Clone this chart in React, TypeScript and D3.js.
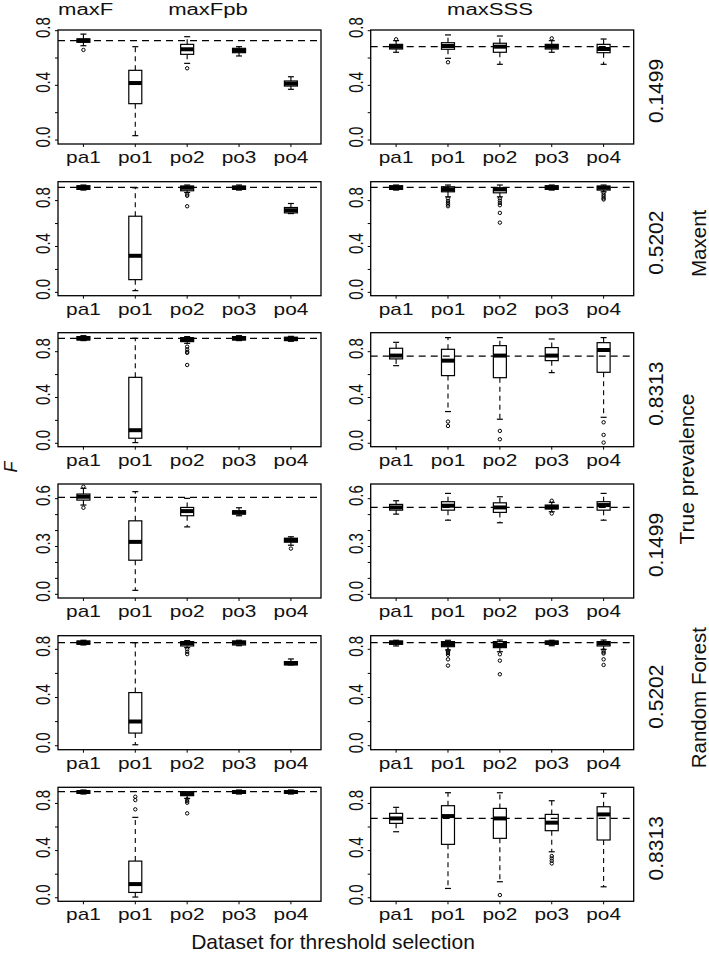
import React from "react";
import * as d3 from "d3";

const groups = ["pa1", "po1", "po2", "po3", "po4"];
const colTitles = ["maxF", "maxFpb", "maxSSS"];
const prevalenceLabels = ["0.1499", "0.5202", "0.8313", "0.1499", "0.5202", "0.8313"];
const modelLabels = ["Maxent", "Random Forest"];
const refLeft = [0.727, 0.916, 0.917, 0.608, 0.855, 0.9];
const refRight = [0.683, 0.916, 0.762, 0.545, 0.855, 0.674];
const rowYMin = [-0.029, -0.029, -0.03, -0.023, -0.033, -0.03];
const rowYMax = [0.805, 0.965, 0.966, 0.692, 0.913, 0.937];
const rowTickStep = [0.2, 0.2, 0.2, 0.1, 0.2, 0.2];
const rowLabelStep = [0.4, 0.4, 0.4, 0.3, 0.4, 0.4];

// [lower whisker, q1, median, q3, upper whisker]
const r1Left = [[0.69, 0.715, 0.728, 0.74, 0.775], [0.032, 0.266, 0.417, 0.51, 0.683], [0.561, 0.627, 0.664, 0.70, 0.756], [0.615, 0.639, 0.655, 0.671, 0.683], [0.371, 0.395, 0.413, 0.432, 0.463]];
const r1LeftOut = [[0.659], [], [0.525], [], []];
const r1Right = [[0.642, 0.666, 0.683, 0.70, 0.727], [0.598, 0.664, 0.688, 0.712, 0.769], [0.554, 0.642, 0.683, 0.708, 0.761], [0.642, 0.666, 0.683, 0.70, 0.727], [0.554, 0.639, 0.666, 0.70, 0.739]];
const r1RightOut = [[0.737], [0.569], [], [0.744], []];
const r2Left = [[0.892, 0.898, 0.912, 0.93, 0.936], [0.015, 0.111, 0.319, 0.664, 0.912], [0.871, 0.886, 0.912, 0.927, 0.936], [0.892, 0.898, 0.912, 0.927, 0.936], [0.687, 0.693, 0.716, 0.74, 0.775]];
const r2LeftOut = [[], [], [0.854, 0.842, 0.751], [], []];
const r2Right = [[0.892, 0.898, 0.912, 0.93, 0.936], [0.833, 0.877, 0.898, 0.921, 0.936], [0.833, 0.868, 0.898, 0.912, 0.936], [0.892, 0.898, 0.912, 0.93, 0.936], [0.877, 0.892, 0.912, 0.927, 0.936]];
const r2RightOut = [[], [0.819, 0.798, 0.781, 0.766, 0.751], [0.82, 0.80, 0.78, 0.76, 0.693, 0.608], [], [0.868, 0.85, 0.835, 0.82, 0.81]];
const r3Left = [[0.897, 0.902, 0.917, 0.932, 0.94], [0.006, 0.044, 0.114, 0.576, 0.917], [0.873, 0.888, 0.905, 0.923, 0.932], [0.897, 0.902, 0.917, 0.932, 0.94], [0.891, 0.897, 0.912, 0.926, 0.934]];
const r3LeftOut = [[], [], [0.844, 0.82, 0.80, 0.79, 0.684], [], []];
const r3Right = [[0.678, 0.737, 0.766, 0.83, 0.882], [0.277, 0.591, 0.722, 0.821, 0.923], [0.21, 0.573, 0.766, 0.853, 0.923], [0.617, 0.722, 0.766, 0.836, 0.911], [0.227, 0.62, 0.815, 0.879, 0.923]];
const r3RightOut = [[], [0.189, 0.151], [0.108, 0.035], [], [0.183, 0.073, 0.006]];
const r4Left = [[0.56, 0.591, 0.612, 0.629, 0.665], [0.025, 0.214, 0.329, 0.461, 0.644], [0.423, 0.493, 0.522, 0.545, 0.602], [0.493, 0.503, 0.514, 0.524, 0.543], [0.308, 0.327, 0.34, 0.352, 0.361]];
const r4LeftOut = [[0.543, 0.675], [], [], [], [0.287]];
const r4Right = [[0.503, 0.528, 0.545, 0.564, 0.587], [0.465, 0.528, 0.556, 0.581, 0.633], [0.449, 0.514, 0.545, 0.574, 0.612], [0.518, 0.535, 0.547, 0.56, 0.577], [0.465, 0.528, 0.56, 0.581, 0.633]];
const r4RightOut = [[], [], [], [0.587, 0.507], []];
const r5Left = [[0.836, 0.842, 0.855, 0.869, 0.875], [0.008, 0.105, 0.201, 0.441, 0.855], [0.814, 0.828, 0.85, 0.864, 0.872], [0.83, 0.836, 0.855, 0.869, 0.875], [0.671, 0.671, 0.684, 0.698, 0.72]];
const r5LeftOut = [[], [], [0.80, 0.78, 0.76], [], []];
const r5Right = [[0.828, 0.842, 0.855, 0.869, 0.875], [0.795, 0.822, 0.844, 0.864, 0.875], [0.78, 0.814, 0.836, 0.864, 0.877], [0.83, 0.842, 0.855, 0.869, 0.875], [0.80, 0.828, 0.85, 0.864, 0.877]];
const r5RightOut = [[], [0.79, 0.78, 0.77, 0.755, 0.717, 0.665], [0.759, 0.706, 0.593], [], [0.79, 0.775, 0.765, 0.717, 0.67]];
const r6Left = [[0.88, 0.886, 0.897, 0.908, 0.914], [0.006, 0.045, 0.116, 0.311, 0.682], [0.843, 0.866, 0.88, 0.894, 0.9], [0.88, 0.886, 0.897, 0.908, 0.914], [0.88, 0.886, 0.897, 0.908, 0.914]];
const r6LeftOut = [[], [0.75, 0.829, 0.857], [0.835, 0.82, 0.806, 0.716], [], []];
const r6Right = [[0.56, 0.631, 0.673, 0.716, 0.767], [0.079, 0.453, 0.693, 0.781, 0.891], [0.136, 0.504, 0.673, 0.758, 0.891], [0.39, 0.569, 0.637, 0.707, 0.823], [0.093, 0.49, 0.707, 0.772, 0.886]];
const r6RightOut = [[], [], [0.023], [0.354, 0.334, 0.314, 0.291], []];

const leftStats = [r1Left, r2Left, r3Left, r4Left, r5Left, r6Left];
const leftOut = [r1LeftOut, r2LeftOut, r3LeftOut, r4LeftOut, r5LeftOut, r6LeftOut];
const rightStats = [r1Right, r2Right, r3Right, r4Right, r5Right, r6Right];
const rightOut = [r1RightOut, r2RightOut, r3RightOut, r4RightOut, r5RightOut, r6RightOut];

const W = 709, H = 954;
const rowTops = [30, 181.7, 332.7, 484, 635.7, 787.3];
const panelH = 114;
const colX = [[58, 321], [370.7, 633.7]];
const FONT = "'Liberation Sans', Arial, Helvetica, sans-serif";

function Panel({ row, col }: { row: number; col: number }) {
  const [x0, x1] = colX[col];
  const top = rowTops[row];
  const bottom = top + panelH;
  const y = d3.scaleLinear().domain([rowYMin[row], rowYMax[row]]).range([bottom, top]);
  const x = d3.scaleLinear().domain([0.51, 5.58]).range([x0, x1]);
  const stats = col === 0 ? leftStats[row] : rightStats[row];
  const outs = col === 0 ? leftOut[row] : rightOut[row];
  const ref = col === 0 ? refLeft[row] : refRight[row];
  const step = rowTickStep[row];
  const ticks = d3.range(0, rowYMax[row] + 1e-6, step).map((v) => +v.toFixed(2));
  const lstep = rowLabelStep[row];
  const bw = 13, cap = 6;
  return (
    <g>
      {ticks.map((t, i) => (
        <line key={"t" + i} x1={x0 - 3} x2={x0} y1={y(t)} y2={y(t)} stroke="#000" strokeWidth={1} />
      ))}
      {ticks.filter((t) => Math.abs(t / lstep - Math.round(t / lstep)) < 1e-6).map((t, i) => (
        <text key={"l" + i} transform={`translate(${x0 - 8},${y(t) - 3}) scale(1.38,1) rotate(-90)`}
          textAnchor="middle" fontSize={15} fontFamily={FONT} fill="#111">{t.toFixed(1)}</text>
      ))}
      {groups.map((g, i) => (
        <g key={g}>
          <line x1={x(i + 1)} x2={x(i + 1)} y1={bottom} y2={bottom + 3} stroke="#000" />
          <text transform={`translate(${x(i + 1)},${bottom + 19}) scale(1.3,1)`} textAnchor="middle"
            fontSize={16} fontFamily={FONT} fill="#111">{g}</text>
        </g>
      ))}
      {stats.map((s, i) => {
        const cx = x(i + 1);
        const [lo, q1, med, q3, hi] = s;
        return (
          <g key={"b" + i}>
            <line x1={cx} x2={cx} y1={y(q3)} y2={y(hi)} stroke="#000" strokeWidth={1.1} strokeDasharray="5,4" />
            <line x1={cx} x2={cx} y1={y(q1)} y2={y(lo)} stroke="#000" strokeWidth={1.1} strokeDasharray="5,4" />
            <line x1={cx - cap / 2} x2={cx + cap / 2} y1={y(hi)} y2={y(hi)} stroke="#000" strokeWidth={1.2} />
            <line x1={cx - cap / 2} x2={cx + cap / 2} y1={y(lo)} y2={y(lo)} stroke="#000" strokeWidth={1.2} />
            <rect x={cx - bw / 2} y={y(q3)} width={bw} height={Math.max(0.5, y(q1) - y(q3))} fill="none" stroke="#000" strokeWidth={1.2} />
            <line x1={cx - bw / 2} x2={cx + bw / 2} y1={y(med)} y2={y(med)} stroke="#000" strokeWidth={4} />
            {outs[i].map((o, j) => (
              <circle key={j} cx={cx} cy={y(o)} r={1.7} fill="none" stroke="#000" strokeWidth={1} />
            ))}
          </g>
        );
      })}
      <line x1={x0} x2={x1} y1={y(ref)} y2={y(ref)} stroke="#000" strokeWidth={1.3} strokeDasharray="7,5" />
      <rect x={x0} y={top} width={x1 - x0} height={panelH} fill="none" stroke="#000" strokeWidth={1.3} />
    </g>
  );
}

export default function App() {
  return (
    <svg width={W} height={H} style={{ position: "absolute", left: 0, top: 0, background: "#fff" }}>
      <rect width={W} height={H} fill="#fff" />
      <text transform="translate(58,15) scale(1.38,1)" fontSize={16} fontFamily={FONT} fill="#111">{colTitles[0]}</text>
      <text transform="translate(208,15) scale(1.38,1)" textAnchor="middle" fontSize={16} fontFamily={FONT} fill="#111">{colTitles[1]}</text>
      <text transform="translate(490,15) scale(1.38,1)" textAnchor="middle" fontSize={16} fontFamily={FONT} fill="#111">{colTitles[2]}</text>
      {rowTops.map((t, r) => (
        <g key={r}>
          <Panel row={r} col={0} />
          <Panel row={r} col={1} />
          <text transform={`translate(663,${t + panelH / 2 + 4}) rotate(-90)`} textAnchor="middle" fontSize={21} fontFamily={FONT} fill="#111">
            {prevalenceLabels[r]}
          </text>
        </g>
      ))}
      <text transform={`translate(706,${(rowTops[0] + rowTops[2] + panelH) / 2 + 5}) rotate(-90)`} textAnchor="middle" fontSize={20.5} fontFamily={FONT} fill="#111">{modelLabels[0]}</text>
      <text transform={`translate(706,${(rowTops[3] + rowTops[5] + panelH) / 2 + 5}) rotate(-90)`} textAnchor="middle" fontSize={20.5} fontFamily={FONT} fill="#111">{modelLabels[1]}</text>
      <text transform="translate(694,469) rotate(-90)" textAnchor="middle" fontSize={21} fontFamily={FONT} fill="#111">True prevalence</text>
      <text transform="translate(17,467) rotate(-90)" textAnchor="middle" fontSize={18} fontStyle="italic" fontFamily={FONT} fill="#111">F</text>
      <text x={333} y={949} textAnchor="middle" fontSize={21} fontFamily={FONT} fill="#111">Dataset for threshold selection</text>
    </svg>
  );
}
